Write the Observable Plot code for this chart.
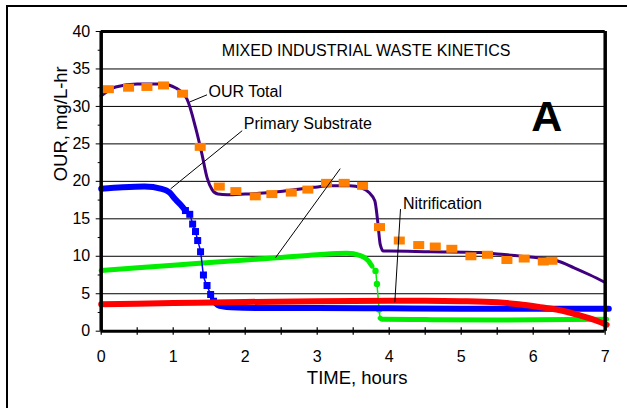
<!DOCTYPE html>
<html>
<head>
<meta charset="utf-8">
<script src="https://cdn.jsdelivr.net/npm/d3@7"></script>
<script src="https://cdn.jsdelivr.net/npm/@observablehq/plot@0.6"></script>
<style>
  html, body { margin: 0; padding: 0; background: #fff; overflow: hidden; width: 627px; height: 408px; }
  #chart { position: absolute; left: 0; top: 0; }
  #frame { position: absolute; left: 6px; top: 5px; width: 700px; height: 500px; border: 2px solid #000; pointer-events: none; z-index: 2; }
</style>
</head>
<body>
<div id="chart"></div>
<div id="frame"></div>
<script>
// ---- axis ticks ----
const xTicks = [0, 1, 2, 3, 4, 5, 6, 7];
const xMinorTicks = [0.5, 1.5, 2.5, 3.5, 4.5, 5.5, 6.5];
const yTicks = [0, 5, 10, 15, 20, 25, 30, 35, 40];
const yMinorTicks = [2.5, 7.5, 12.5, 17.5, 22.5, 27.5, 32.5, 37.5];
const gridValues = [5, 10, 15, 20, 25, 30, 35];

// ---- observed total OUR (orange squares) ----
const obsTime = [0.10, 0.38, 0.635, 0.865, 1.13, 1.375, 1.64, 1.87, 2.14, 2.37, 2.64, 2.87, 3.13, 3.375, 3.63, 3.865, 4.14, 4.41, 4.64, 4.87, 5.135, 5.365, 5.635, 5.875, 6.14, 6.26];
const obsOUR  = [32.3, 32.5, 32.6, 32.8, 31.7, 24.6, 19.3, 18.7, 18.0, 18.3, 18.5, 18.9, 19.8, 19.8, 19.4, 13.9, 12.1, 11.5, 11.3, 11.0, 10.0, 10.2, 9.5, 9.7, 9.3, 9.4];

// ---- model total OUR (purple) ----
const totalTime = [0, 0.2, 0.5, 0.85, 1.03, 1.19, 1.31, 1.40, 1.47, 1.54, 1.62, 1.75, 2.0, 2.35, 2.7, 2.95, 3.2, 3.45, 3.62, 3.72, 3.8, 3.84, 3.875, 3.92, 4.0, 4.57, 5.26, 5.5, 5.96, 6.33, 6.56, 6.79, 7.0];
const totalOUR  = [31.4, 32.6, 33.0, 33.0, 32.5, 31.0, 27.2, 23.6, 20.5, 18.9, 18.3, 18.2, 18.3, 18.5, 18.9, 19.2, 19.4, 19.4, 19.1, 18.5, 17.4, 14.7, 11.6, 10.7, 10.7, 10.6, 10.5, 10.3, 9.9, 9.4, 8.5, 7.5, 6.5];

// ---- primary substrate (blue) ----
const subTime = [0, 0.3, 0.6, 0.84, 0.95, 1.03, 1.10, 1.17, 1.23, 1.27, 1.31, 1.34, 1.38, 1.42, 1.47, 1.52, 1.56, 1.62, 1.7, 1.8, 2.2, 3.0, 4.0, 5.0, 6.0, 7.05];
const subOUR  = [19.0, 19.2, 19.3, 19.0, 18.5, 17.6, 16.9, 16.1, 15.6, 14.3, 13.3, 12.1, 10.6, 7.5, 6.1, 4.9, 4.0, 3.5, 3.3, 3.2, 3.1, 3.1, 3.05, 3.0, 3.0, 3.0];
const subMarkTime = [1.17, 1.23, 1.27, 1.31, 1.34, 1.38, 1.42, 1.47, 1.52, 1.56];
const subMarkOUR  = [16.1, 15.6, 14.3, 13.3, 12.1, 10.6, 7.5, 6.1, 4.9, 4.0];

// ---- second substrate (green) ----
const secTime = [0, 1.0, 2.0, 2.5, 3.0, 3.41, 3.6, 3.71, 3.76, 3.81, 3.83, 3.86, 3.875, 3.9, 4.5, 5.5, 6.5, 7.02];
const secOUR  = [8.1, 8.8, 9.5, 9.85, 10.2, 10.4, 10.1, 9.4, 8.7, 8.05, 6.3, 2.9, 1.75, 1.6, 1.55, 1.5, 1.55, 1.6];
const secMarkTime = [3.81, 3.83, 3.86];
const secMarkOUR  = [8.05, 6.3, 2.9];

// ---- nitrification (red) ----
const nitTime = [0, 1.0, 2.0, 3.0, 4.0, 4.5, 5.0, 5.5, 5.8, 6.1, 6.42, 6.65, 6.88, 7.02];
const nitOUR  = [3.6, 3.75, 3.9, 4.0, 4.05, 4.05, 4.0, 3.85, 3.6, 3.2, 2.7, 2.1, 1.4, 0.87];

// ---- annotations ----
const labelText = ["OUR Total", "Primary Substrate", "Nitrification"];
const labelTime = [1.49, 1.98, 4.19];
const labelOUR  = [31.9, 27.65, 17.05];
const leaderTime1 = [1.47, 1.958, 3.32, 4.157];
const leaderOUR1  = [31.55, 26.76, 21.7, 16.3];
const leaderTime2 = [1.23, 0.963, 2.42, 4.078];
const leaderOUR2  = [30.6, 18.99, 9.8, 3.87];
const titleText = ["MIXED INDUSTRIAL WASTE KINETICS"];
const titleTime = [3.68], titleOUR = [37.45];
const panelText = ["A"];
const panelTime = [6.19], panelOUR = [28.6];
const xLabel = "TIME, hours";
const yLabel = "OUR, mg/L-hr";

const zip = (ts, vs) => ts.map((t, i) => ({t, v: vs[i]}));
const obs = zip(obsTime, obsOUR);
const total = zip(totalTime, totalOUR);
const sub = zip(subTime, subOUR);
const subMarks = zip(subMarkTime, subMarkOUR);
const sec = zip(secTime, secOUR);
const secMarks = zip(secMarkTime, secMarkOUR);
const nit = zip(nitTime, nitOUR);
const labels = labelText.map((s, i) => ({s, t: labelTime[i], v: labelOUR[i]}));
const leaders = leaderTime1.map((t, i) => ({t1: t, v1: leaderOUR1[i], t2: leaderTime2[i], v2: leaderOUR2[i]}));

const orangeRect = {draw(ctx) { ctx.rect(-5.5, -4, 11, 8); }};
const blueSquare = {draw(ctx) { ctx.rect(-3.5, -3.5, 7, 7); }};

const font = "'Liberation Sans', Arial, sans-serif";

const chart = Plot.plot({
  width: 627,
  height: 408,
  marginLeft: 100.7,
  marginRight: 22.3,
  marginTop: 31,
  marginBottom: 77.3,
  style: {fontFamily: font, fontSize: "16px", color: "#000", background: "transparent"},
  x: {domain: [0, 7]},
  y: {domain: [0, 40]},
  marks: [
    Plot.ruleY(gridValues, {stroke: "#000", strokeWidth: 1}),
    // green band
    Plot.line(sec, {x: "t", y: "v", filter: d => d.t <= 3.78, stroke: "#00ee00", strokeWidth: 5, curve: "monotone-x"}),
    Plot.line(sec, {x: "t", y: "v", filter: d => d.t >= 3.875, stroke: "#00ee00", strokeWidth: 5, curve: "monotone-x"}),
    Plot.line(sec, {x: "t", y: "v", stroke: "#00ee00", strokeWidth: 1.5, curve: "monotone-x"}),
    Plot.dot(secMarks, {x: "t", y: "v", r: 3.2, fill: "#00ee00"}),
    // blue band
    Plot.line(sub, {x: "t", y: "v", filter: d => d.t <= 1.17, stroke: "#0000ff", strokeWidth: 6, curve: "monotone-x"}),
    Plot.line(sub, {x: "t", y: "v", filter: d => d.t >= 1.56, stroke: "#0000ff", strokeWidth: 6, curve: "monotone-x"}),
    Plot.line(sub, {x: "t", y: "v", stroke: "#0000ff", strokeWidth: 1.5, curve: "monotone-x"}),
    Plot.dot(subMarks, {x: "t", y: "v", symbol: blueSquare, fill: "#0000ff"}),
    // red nitrification
    Plot.line(nit, {x: "t", y: "v", stroke: "#ff0000", strokeWidth: 6, curve: "monotone-x"}),
    // purple total model
    Plot.line(total, {x: "t", y: "v", stroke: "#400080", strokeWidth: 3, curve: "monotone-x"}),
    // orange observed
    Plot.dot(obs, {x: "t", y: "v", symbol: orangeRect, fill: "#ff8000"}),
    // plot-area border
    Plot.ruleY([0], {stroke: "#000", strokeWidth: 3}),
    Plot.ruleY([40], {stroke: "#000", strokeWidth: 3}),
    Plot.ruleX([0], {stroke: "#000", strokeWidth: 3.5}),
    Plot.ruleX([7], {stroke: "#000", strokeWidth: 3.5}),
    // ticks
    Plot.ruleX(xTicks.concat(xMinorTicks), {x: d => d, y1: -0.55, y2: 0.45, stroke: "#000", strokeWidth: 1.2}),
    Plot.axisY({ticks: yTicks, tickSize: 5, tickPadding: 6, label: null, fontSize: 16, tickFormat: d => d}),
    Plot.axisY({ticks: yMinorTicks, tickSize: 3, label: null, tickFormat: () => ""}),
    Plot.axisX({ticks: xTicks, tickSize: 0, tickPadding: 19, label: null, fontSize: 16, tickFormat: d => d}),
    // leaders and labels
    Plot.link(leaders, {x1: "t1", y1: "v1", x2: "t2", y2: "v2", stroke: "#000", strokeWidth: 1}),
    Plot.text(labels, {x: "t", y: "v", text: "s", textAnchor: "start", fontSize: 16, fill: "#000"}),
    Plot.text(titleText, {x: () => titleTime[0], y: () => titleOUR[0], text: d => d, fontSize: 16, fill: "#000"}),
    Plot.text(panelText, {x: () => panelTime[0], y: () => panelOUR[0], text: d => d, fontSize: 43, fontWeight: "bold", fill: "#000"}),
    // axis titles
    Plot.text([xLabel], {frameAnchor: "bottom", text: d => d, lineAnchor: "top", dy: 39.3, dx: 4, fontSize: 18.5, fill: "#000"}),
    Plot.text([yLabel], {frameAnchor: "left", text: d => d, rotate: -90, lineAnchor: "bottom", dx: -34.2, fontSize: 18.5, fill: "#000"})
  ]
});
document.getElementById("chart").appendChild(chart);
</script>
</body>
</html>
